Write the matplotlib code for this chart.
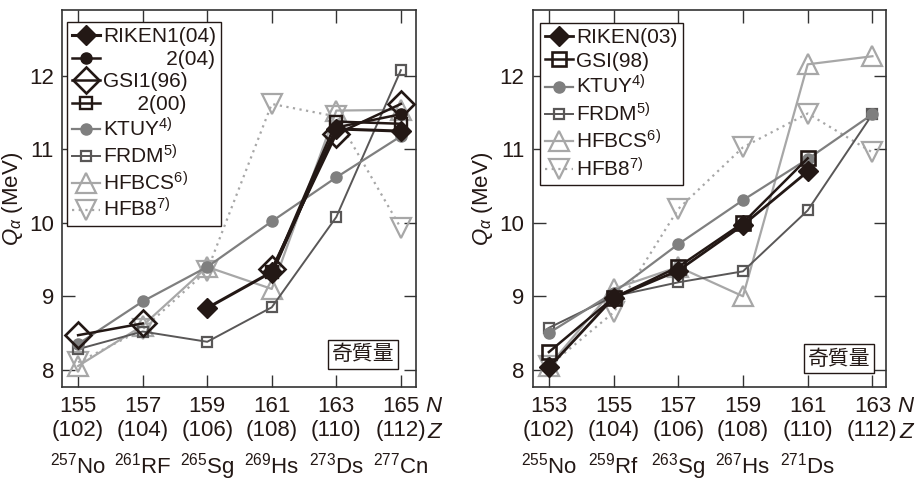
import numpy as np
import matplotlib
matplotlib.use("Agg")
import matplotlib.pyplot as plt

plt.rcParams['font.family'] = ['Liberation Sans', 'Noto Sans CJK JP', 'DejaVu Sans']
plt.rcParams['mathtext.fontset'] = 'custom'
plt.rcParams['mathtext.rm'] = 'Liberation Sans'
plt.rcParams['mathtext.it'] = 'Liberation Sans:italic'
plt.rcParams['mathtext.bf'] = 'Liberation Sans:bold'

nan = np.nan

# ---- left panel data ----
N_left = [155, 157, 159, 161, 163, 165]
Z_left = [102, 104, 106, 108, 110, 112]
iso_left = ['$^{257}$No', '$^{261}$RF', '$^{265}$Sg', '$^{269}$Hs', '$^{273}$Ds', '$^{277}$Cn']
riken1_04 = [nan, nan, 8.84, 9.33, 11.28, 11.25]
riken2_04 = [nan, nan, nan, 9.30, 11.30, 11.48]
gsi1_96 = [8.47, 8.63, nan, 9.37, 11.21, 11.62]
gsi2_00 = [nan, nan, nan, 9.33, 11.38, 11.35]
ktuy_l = [8.35, 8.93, 9.40, 10.02, 10.62, 11.18]
frdm_l = [8.28, 8.52, 8.38, 8.85, 10.08, 12.08]
hfbcs_l = [8.05, 8.60, 9.40, 9.10, 11.53, 11.54]
hfb8_l = [8.10, 8.55, 9.35, 11.62, 11.45, 9.93]

# ---- right panel data ----
N_right = [153, 155, 157, 159, 161, 163]
Z_right = [102, 104, 106, 108, 110, 112]
iso_right = ['$^{255}$No', '$^{259}$Rf', '$^{263}$Sg', '$^{267}$Hs', '$^{271}$Ds']
riken_03 = [8.03, 8.98, 9.35, 9.97, 10.70, nan]
gsi_98 = [8.24, 8.98, 9.40, 10.00, 10.88, nan]
ktuy_r = [8.50, 9.05, 9.71, 10.31, 10.87, 11.48]
frdm_r = [8.57, 9.00, 9.19, 9.34, 10.17, 11.48]
hfbcs_r = [8.05, 9.10, 9.40, 9.00, 12.16, 12.27]
hfb8_r = [8.05, 8.78, 10.19, 11.03, 11.49, 10.96]

BLACK = '#231815'
KT = '#7f7f7f'
FR = '#595757'
LG = '#a7a7a7'
FS = 16
LFS = 15

fig = plt.figure(figsize=(9.15, 4.83), dpi=100)
axL = fig.add_axes([62.3/915, 1-387.3/483, 353.4/915, 377.3/483])
axR = fig.add_axes([532.7/915, 1-387.3/483, 353.3/915, 377.3/483])

def style(ax, N, Z, xlim):
    ax.set_xlim(*xlim)
    ax.set_ylim(7.76, 12.9)
    ax.set_xticks(N)
    ax.set_xticklabels([f"{n}\n({z})" for n, z in zip(N, Z)], fontsize=FS, linespacing=1.2)
    ax.set_yticks([8, 9, 10, 11, 12])
    ax.set_yticklabels(['8', '9', '10', '11', '12'], fontsize=FS)
    ax.tick_params(direction='in', length=9, width=1.0, top=True, right=True,
                   colors='#333333', labelcolor='#231815', pad=6)
    ax.tick_params(axis='x', pad=6)
    for s in ax.spines.values():
        s.set_linewidth(1.2)
        s.set_color('#333333')
    ax.set_ylabel(r'$Q_\alpha$ (MeV)', fontsize=FS, color='#231815')

def plot_gray(ax, N, ktuy, frdm, hfbcs, hfb8):
    h_hfb8, = ax.plot(N, hfb8, ls=(0, (1, 2)), color=LG, lw=1.6, marker='v', ms=14,
                      mfc='none', mec=LG, mew=1.6, zorder=2)
    h_hfbcs, = ax.plot(N, hfbcs, ls='-', color=LG, lw=1.6, marker='^', ms=14,
                       mfc='none', mec=LG, mew=1.6, zorder=2)
    h_frdm, = ax.plot(N, frdm, ls='-', color=FR, lw=1.4, marker='s', ms=7,
                      mfc='none', mec=FR, mew=1.6, zorder=3)
    h_ktuy, = ax.plot(N, ktuy, ls='-', color=KT, lw=1.6, marker='o', ms=8,
                      mfc=KT, mec=KT, zorder=3)
    return h_ktuy, h_frdm, h_hfbcs, h_hfb8

# ---- left ----
style(axL, N_left, Z_left, (154.51, 165.46))
k, f, hb, h8 = plot_gray(axL, N_left, ktuy_l, frdm_l, hfbcs_l, hfb8_l)
g2, = axL.plot(N_left, gsi2_00, '-', color=BLACK, lw=1.8, marker='s', ms=9,
               mfc='none', mec=BLACK, mew=1.7, zorder=5)
g1, = axL.plot(N_left, gsi1_96, '-', color=BLACK, lw=1.8, marker='D', ms=13,
               mfc='none', mec=BLACK, mew=1.9, zorder=6)
r2, = axL.plot(N_left, riken2_04, '-', color=BLACK, lw=1.8, marker='o', ms=8,
               mfc=BLACK, mec=BLACK, zorder=6)
r1, = axL.plot(N_left, riken1_04, '-', color=BLACK, lw=2.2, marker='D', ms=10,
               mfc=BLACK, mec=BLACK, zorder=7)
legL = axL.legend([r1, r2, g1, g2, k, f, hb, h8],
                  ['RIKEN1(04)', '           2(04)', 'GSI1(96)', '      2(00)',
                   'KTUY$^{4)}$', 'FRDM$^{5)}$', 'HFBCS$^{6)}$', 'HFB8$^{7)}$'],
                  loc='upper left', bbox_to_anchor=(0.0125, 0.968), fontsize=LFS,
                  frameon=True, fancybox=False, edgecolor=BLACK, framealpha=1,
                  borderpad=0.25, labelspacing=0.17, handlelength=1.35,
                  handletextpad=0.15, borderaxespad=0.0)
legL.get_frame().set_linewidth(1.0)
for t in legL.get_texts():
    t.set_color('#231815')

for n, s in zip(N_left, iso_left):
    axL.text(n, -0.228, s, transform=axL.get_xaxis_transform(), ha='center',
             va='baseline', fontsize=FS, color='#231815')
axL.text(1.05, -0.052, 'N', transform=axL.transAxes, ha='center', va='center',
         fontsize=FS, style='italic', color='#231815')
axL.text(1.052, -0.12, 'Z', transform=axL.transAxes, ha='center', va='center',
         fontsize=FS, style='italic', color='#231815')
axL.text(0.852, 0.087, '奇質量', transform=axL.transAxes, ha='center', va='center',
         fontsize=15, family=['Noto Sans CJK JP'], color='#231815', zorder=10,
         bbox=dict(boxstyle='square,pad=0.18', fc='white', ec=BLACK, lw=1.0))
axL.yaxis.set_label_coords(-0.105, 0.5)

# ---- right ----
style(axR, N_right, Z_right, (152.5, 163.42))
k, f, hb, h8 = plot_gray(axR, N_right, ktuy_r, frdm_r, hfbcs_r, hfb8_r)
g, = axR.plot(N_right, gsi_98, '-', color=BLACK, lw=1.8, marker='s', ms=9.5,
              mfc='none', mec=BLACK, mew=1.9, zorder=5)
r, = axR.plot(N_right, riken_03, '-', color=BLACK, lw=2.0, marker='D', ms=10,
              mfc=BLACK, mec=BLACK, zorder=6)
legR = axR.legend([r, g, k, f, hb, h8],
                  ['RIKEN(03)', 'GSI(98)', 'KTUY$^{4)}$', 'FRDM$^{5)}$',
                   'HFBCS$^{6)}$', 'HFB8$^{7)}$'],
                  loc='upper left', bbox_to_anchor=(0.02, 0.965), fontsize=LFS,
                  frameon=True, fancybox=False, edgecolor=BLACK, framealpha=1,
                  borderpad=0.25, labelspacing=0.2, handlelength=1.35,
                  handletextpad=0.15, borderaxespad=0.0)
legR.get_frame().set_linewidth(1.0)
for t in legR.get_texts():
    t.set_color('#231815')

for n, s in zip(N_right, iso_right):
    axR.text(n, -0.228, s, transform=axR.get_xaxis_transform(), ha='center',
             va='baseline', fontsize=FS, color='#231815')
axR.text(1.054, -0.052, 'N', transform=axR.transAxes, ha='center', va='center',
         fontsize=FS, style='italic', color='#231815')
axR.text(1.056, -0.12, 'Z', transform=axR.transAxes, ha='center', va='center',
         fontsize=FS, style='italic', color='#231815')
axR.text(0.867, 0.076, '奇質量', transform=axR.transAxes, ha='center', va='center',
         fontsize=15, family=['Noto Sans CJK JP'], color='#231815', zorder=10,
         bbox=dict(boxstyle='square,pad=0.18', fc='white', ec=BLACK, lw=1.0))
axR.yaxis.set_label_coords(-0.107, 0.5)

fig.savefig('out.png', dpi=100)
